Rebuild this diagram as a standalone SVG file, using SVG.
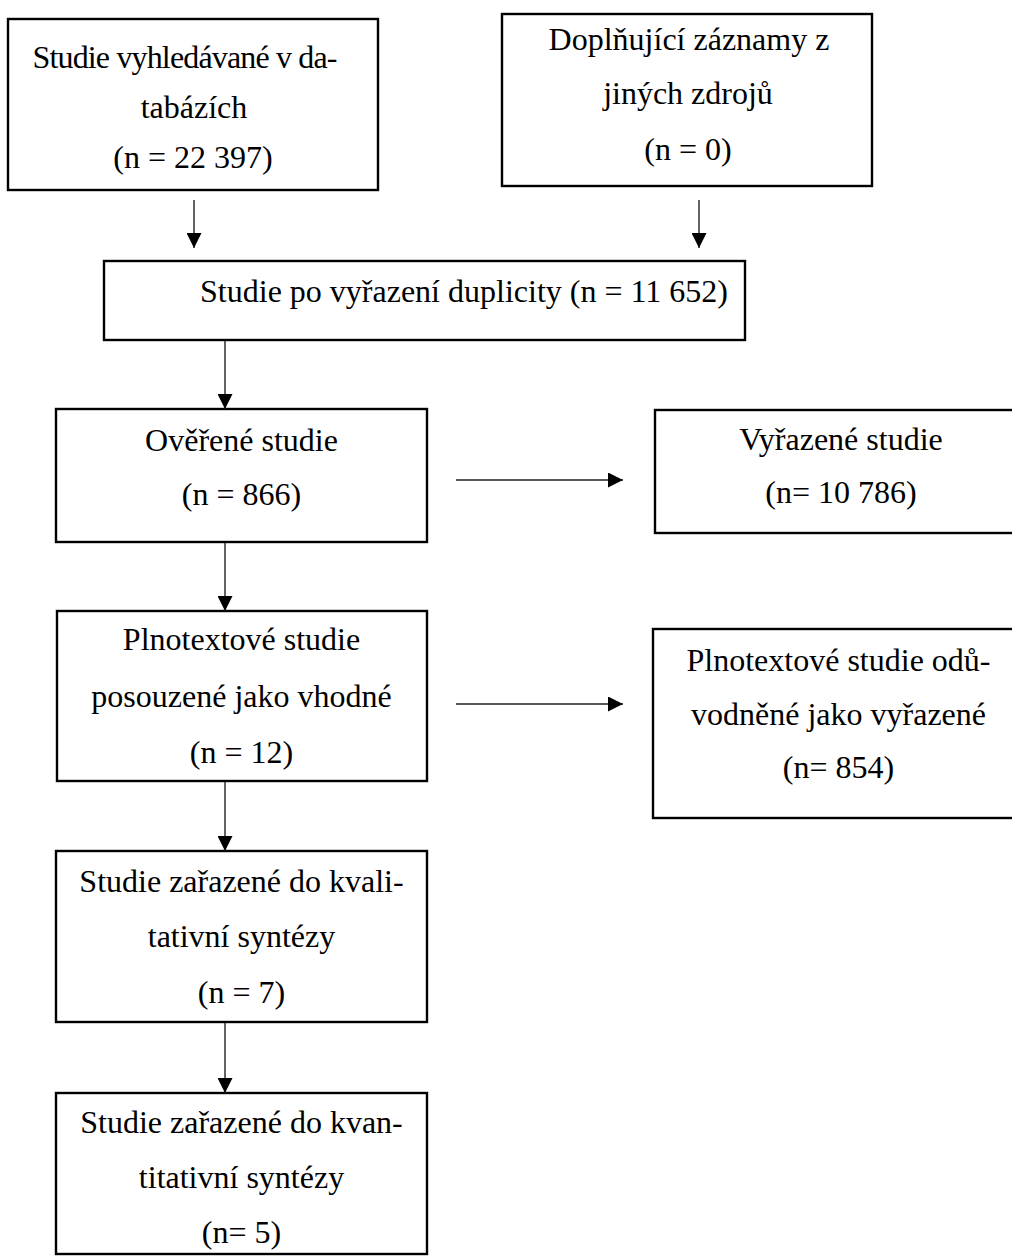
<svg xmlns="http://www.w3.org/2000/svg" width="1012" height="1256" viewBox="0 0 1012 1256">
<style>
.box{fill:#fff;stroke:#000;stroke-width:2.4}
.t{font-family:"Liberation Serif","Times New Roman",serif;font-size:32px;fill:#000;text-anchor:middle}
.c{stroke:#222;stroke-width:1.4;fill:none}
</style>
<defs>
<marker id="ah" markerUnits="userSpaceOnUse" markerWidth="16" markerHeight="15" refX="15" refY="7.5" orient="auto">
<path d="M0,0 L15,7.5 L0,15 z" fill="#000"/>
</marker>
</defs>
<rect width="1012" height="1256" fill="#fff"/>
<g id="n1"><rect class="box" x="8" y="19" width="370" height="171"/>
<text class="t" x="185" y="68" textLength="305" lengthAdjust="spacing">Studie vyhledávané v da-</text>
<text class="t" x="194" y="118">tabázích</text>
<text class="t" x="193" y="168">(n = 22 397)</text></g>
<g id="n2"><rect class="box" x="502" y="14" width="370" height="172"/>
<text class="t" x="689" y="50">Doplňující záznamy z</text>
<text class="t" x="688" y="104">jiných zdrojů</text>
<text class="t" x="688" y="160">(n = 0)</text></g>
<g id="n3"><rect class="box" x="104" y="261" width="641" height="79"/>
<text class="t" x="464" y="302">Studie po vyřazení duplicity (n = 11 652)</text></g>
<g id="n4"><rect class="box" x="56" y="409" width="371" height="133"/>
<text class="t" x="241.5" y="451">Ověřené studie</text>
<text class="t" x="241.5" y="505">(n = 866)</text></g>
<g id="n5"><rect class="box" x="655" y="410" width="373" height="123"/>
<text class="t" x="841" y="450">Vyřazené studie</text>
<text class="t" x="841" y="503">(n= 10 786)</text></g>
<g id="n6"><rect class="box" x="57" y="611" width="370" height="170"/>
<text class="t" x="241.5" y="650">Plnotextové studie</text>
<text class="t" x="241.5" y="707">posouzené jako vhodné</text>
<text class="t" x="241.5" y="763">(n = 12)</text></g>
<g id="n7"><rect class="box" x="653" y="629" width="373" height="189"/>
<text class="t" x="838.5" y="671">Plnotextové studie odů-</text>
<text class="t" x="838.5" y="725">vodněné jako vyřazené</text>
<text class="t" x="838.5" y="778">(n= 854)</text></g>
<g id="n8"><rect class="box" x="56" y="851" width="371" height="171"/>
<text class="t" x="241.5" y="892">Studie zařazené do kvali-</text>
<text class="t" x="241.5" y="947">tativní syntézy</text>
<text class="t" x="241.5" y="1003">(n = 7)</text></g>
<g id="n9"><rect class="box" x="56" y="1093" width="371" height="161"/>
<text class="t" x="241.5" y="1133">Studie zařazené do kvan-</text>
<text class="t" x="241.5" y="1188">titativní syntézy</text>
<text class="t" x="241.5" y="1243">(n= 5)</text></g>
<g id="connectors">
<line class="c" x1="194" y1="200" x2="194" y2="248" marker-end="url(#ah)"/>
<line class="c" x1="699" y1="200" x2="699" y2="248" marker-end="url(#ah)"/>
<line class="c" x1="225" y1="341" x2="225" y2="409" marker-end="url(#ah)"/>
<line class="c" x1="225" y1="543" x2="225" y2="611" marker-end="url(#ah)"/>
<line class="c" x1="225" y1="782" x2="225" y2="851" marker-end="url(#ah)"/>
<line class="c" x1="225" y1="1023" x2="225" y2="1093" marker-end="url(#ah)"/>
<line class="c" x1="456" y1="480" x2="623" y2="480" marker-end="url(#ah)"/>
<line class="c" x1="456" y1="704" x2="623" y2="704" marker-end="url(#ah)"/>
</g>
</svg>
